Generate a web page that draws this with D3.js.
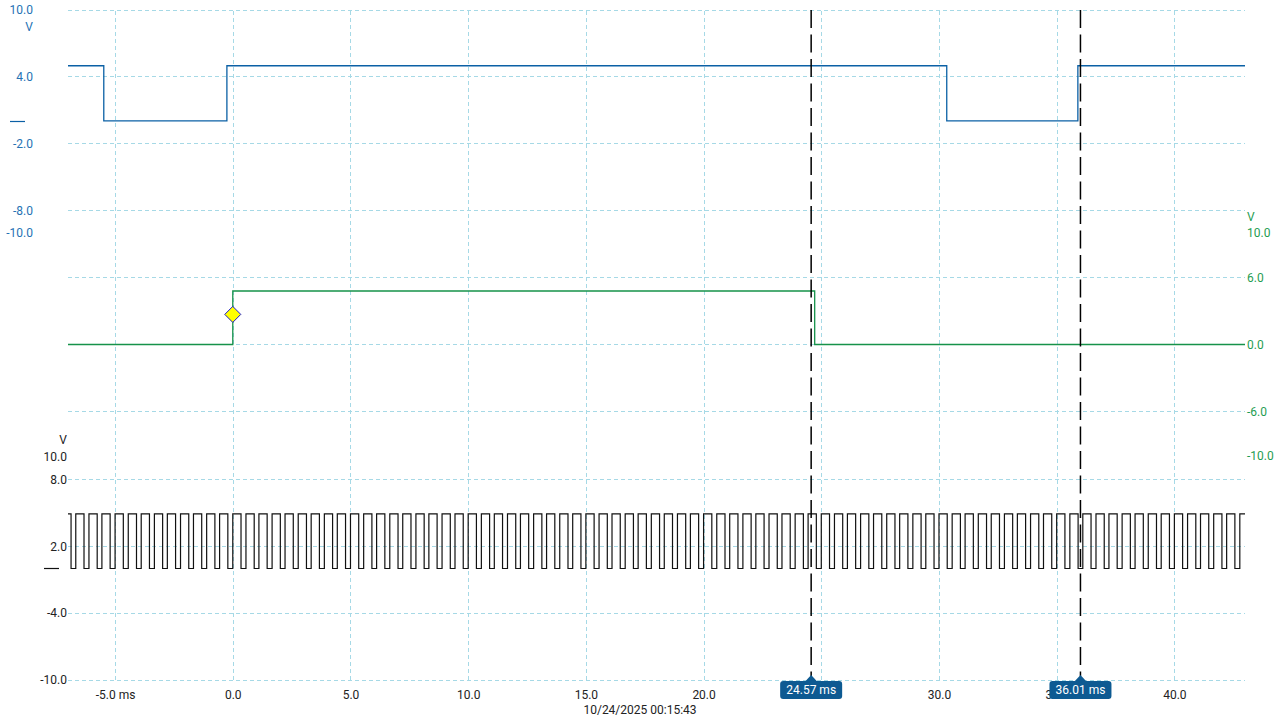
<!DOCTYPE html>
<html><head><meta charset="utf-8">
<script src="https://cdn.jsdelivr.net/npm/d3@7"></script>
<style>
html,body{margin:0;padding:0;background:#fff;}
svg{display:block;font-family:Roboto,"Noto Sans",sans-serif;}
</style></head>
<body>
<svg id="c" width="1280" height="720"></svg>
<script>
// ---------- data ----------
const timeDomain = [-7, 43];                 // ms
const xTicks = [-5, 0, 5, 10, 15, 20, 25, 30, 35, 40];
const ch1Ticks = [10, 4, -2, -8, -10];
const ch2Ticks = [10, 6, 0, -6, -10];
const ch3Ticks = [10, 8, 2, -4, -10];
const ch1Grid = [10, 4, -2, -8];
const ch2Grid = [6, 0, -6];
const ch3Grid = [8, 2, -4, -10];

// channel 1 (blue) step signal
const ch1Time = [-7, -5.48, -0.25, 30.33, 35.90, 43];
const ch1Volt = [5.0, 0.05, 5.0, 0.05, 5.0, 5.0];

// channel 2 (green) step signal
const ch2Time = [-7, 0.0, 24.72, 43];
const ch2Volt = [0.0, 4.8, 0.0, 0.0];

// channel 3 (black) clock: rising edges (ms), high time, levels
const clockRise = [-6.67,-6.11,-5.56,-5.00,-4.44,-3.89,-3.33,-2.78,-2.22,-1.67,-1.11,-0.56,
  0.00,0.56,1.11,1.67,2.22,2.78,3.33,3.89,4.44,5.00,5.56,6.11,6.67,7.22,7.78,8.33,8.89,9.44,
  10.00,10.56,11.11,11.67,12.22,12.78,13.33,13.89,14.44,15.00,15.56,16.11,16.67,17.22,17.78,
  18.33,18.89,19.44,20.00,20.56,21.11,21.67,22.22,22.78,23.33,23.89,24.44,25.00,25.56,26.11,
  26.67,27.22,27.78,28.33,28.89,29.44,30.00,30.56,31.11,31.67,32.22,32.78,33.33,33.89,34.44,
  35.00,35.56,36.11,36.67,37.22,37.78,38.33,38.89,39.44,40.00,40.56,41.11,41.67,42.22,42.78];
const clockFirstFall = -6.87;
const clockHighMs = 0.35;
const clockLevels = [4.9, 0.0];   // high, low

// cursors and trigger
const cursors = [24.57, 36.01];
const trigger = {t: 0.0, v: 2.7};
const dateText = "10/24/2025 00:15:43";

// ---------- drawing ----------
const svg = d3.select("#c");
const W = 1280, H = 720;
const L = 68, R = 1245, T = 10, B = 680;
const x = d3.scaleLinear().domain(timeDomain).range([L, R]);
const y1 = d3.scaleLinear().domain([-10, 10]).range([233, 10]);
const y2 = d3.scaleLinear().domain([-10, 10]).range([456, 233]);
const y3 = d3.scaleLinear().domain([-10, 10]).range([680, 457]);

const gridCol = "#a6d9e6";
const blue = "#0b60a5", blueTxt = "#2572b4";
const green = "#16924a", greenTxt = "#1f9d52";
const fmt = d => d.toFixed(1);

svg.append("rect").attr("width", W).attr("height", H).attr("fill", "#fff");

// horizontal grid
const hg = svg.append("g");
const gridYs = ch1Grid.map(y1).concat(ch2Grid.map(y2), ch3Grid.map(y3));
hg.selectAll("line").data(gridYs).join("line")
  .attr("x1", L).attr("x2", R).attr("y1", d => d).attr("y2", d => d)
  .attr("stroke", gridCol).attr("stroke-dasharray", "4,3").attr("stroke-width", 1)
  .attr("shape-rendering", "crispEdges");

// vertical grid + x tick labels via axis
const xAxis = d3.axisBottom(x).tickValues(xTicks).tickSize(-(B - T)).tickPadding(10)
  .tickFormat(d => d === -5 ? "-5.0 ms" : fmt(d));
const gx = svg.append("g").attr("transform", `translate(0,${B})`).call(xAxis);
gx.select(".domain").remove();
gx.selectAll(".tick line").attr("stroke", gridCol).attr("stroke-dasharray", "4,3")
  .attr("shape-rendering", "crispEdges");
gx.selectAll(".tick text").attr("fill", "#222").attr("font-size", 12)
  .attr("font-family", "Roboto, sans-serif");

// left axis ch1
const a1 = svg.append("g").attr("transform", "translate(33,0)")
  .call(d3.axisLeft(y1).tickValues(ch1Ticks).tickSize(0).tickPadding(0).tickFormat(fmt));
a1.select(".domain").remove();
a1.selectAll("text").attr("fill", blueTxt).attr("font-size", 12).attr("font-family", "Roboto, sans-serif");
svg.append("text").attr("x", 33).attr("y", 27).attr("text-anchor", "end").attr("dy", "0.32em")
  .attr("fill", blueTxt).attr("font-size", 12).text("V");
svg.append("line").attr("x1", 10).attr("x2", 25).attr("y1", y1(0)).attr("y2", y1(0))
  .attr("stroke", blue).attr("stroke-width", 1.2);

// right axis ch2
const a2 = svg.append("g").attr("transform", "translate(1247,0)")
  .call(d3.axisRight(y2).tickValues(ch2Ticks).tickSize(0).tickPadding(0).tickFormat(fmt));
a2.select(".domain").remove();
a2.selectAll("text").attr("fill", greenTxt).attr("font-size", 12).attr("font-family", "Roboto, sans-serif");
svg.append("text").attr("x", 1247).attr("y", 217).attr("dy", "0.32em")
  .attr("fill", greenTxt).attr("font-size", 12).text("V");

// left axis ch3
const a3 = svg.append("g").attr("transform", "translate(67,0)")
  .call(d3.axisLeft(y3).tickValues(ch3Ticks).tickSize(0).tickPadding(0).tickFormat(fmt));
a3.select(".domain").remove();
a3.selectAll("text").attr("fill", "#222").attr("font-size", 12).attr("font-family", "Roboto, sans-serif");
svg.append("text").attr("x", 67).attr("y", 440).attr("text-anchor", "end").attr("dy", "0.32em")
  .attr("fill", "#222").attr("font-size", 12).text("V");
svg.append("line").attr("x1", 44).attr("x2", 59).attr("y1", y3(0)).attr("y2", y3(0))
  .attr("stroke", "#111").attr("stroke-width", 1.2);

// traces
const stepLine = (ys) => d3.line().x(d => x(d[0])).y(d => ys(d[1])).curve(d3.curveStepAfter);

svg.append("path").datum(ch1Time.map((t, i) => [t, ch1Volt[i]]))
  .attr("d", stepLine(y1)).attr("fill", "none").attr("stroke", blue).attr("stroke-width", 1.3);

svg.append("path").datum(ch2Time.map((t, i) => [t, ch2Volt[i]]))
  .attr("d", stepLine(y2)).attr("fill", "none").attr("stroke", green).attr("stroke-width", 1.3);

const clk = [[timeDomain[0], clockLevels[0]], [clockFirstFall, clockLevels[1]]];
clockRise.forEach(r => {
  clk.push([r, clockLevels[0]]);
  const f = r + clockHighMs;
  if (f < timeDomain[1]) clk.push([f, clockLevels[1]]);
});
clk.push([timeDomain[1], clk[clk.length - 1][1]]);
svg.append("path").datum(clk).attr("d", stepLine(y3)).attr("fill", "none")
  .attr("stroke", "#111").attr("stroke-width", 1.2);

// trigger marker
const tx = x(trigger.t), ty = y2(trigger.v), s = 8;
svg.append("path").attr("d", `M${tx},${ty - s}L${tx + s},${ty}L${tx},${ty + s}L${tx - s},${ty}Z`)
  .attr("fill", "#ffff00").attr("stroke", "#1a1acc").attr("stroke-width", 1);

// cursors
cursors.forEach(c => {
  const cx = x(c);
  svg.append("line").attr("x1", cx).attr("x2", cx).attr("y1", T).attr("y2", 676)
    .attr("stroke", "#000").attr("stroke-width", 1.5).attr("stroke-dasharray", "18,6.5");
  const g = svg.append("g");
  const bw = 62, bh = 18, by = 681;
  g.append("rect").attr("x", cx - bw / 2).attr("y", by).attr("width", bw).attr("height", bh)
    .attr("rx", 3).attr("fill", "#0d5a92");
  g.append("path").attr("d", `M${cx - 6},${by + 0.5}L${cx},${by - 6}L${cx + 6},${by + 0.5}Z`).attr("fill", "#0d5a92");
  g.append("text").attr("x", cx).attr("y", by + bh / 2).attr("dy", "0.35em").attr("text-anchor", "middle")
    .attr("fill", "#fff").attr("font-size", 12).text(c.toFixed(2) + " ms");
});

// date
svg.append("text").attr("x", 640).attr("y", 710).attr("dy", "0.32em").attr("text-anchor", "middle")
  .attr("fill", "#222").attr("font-size", 12).text(dateText);
</script>
</body></html>
